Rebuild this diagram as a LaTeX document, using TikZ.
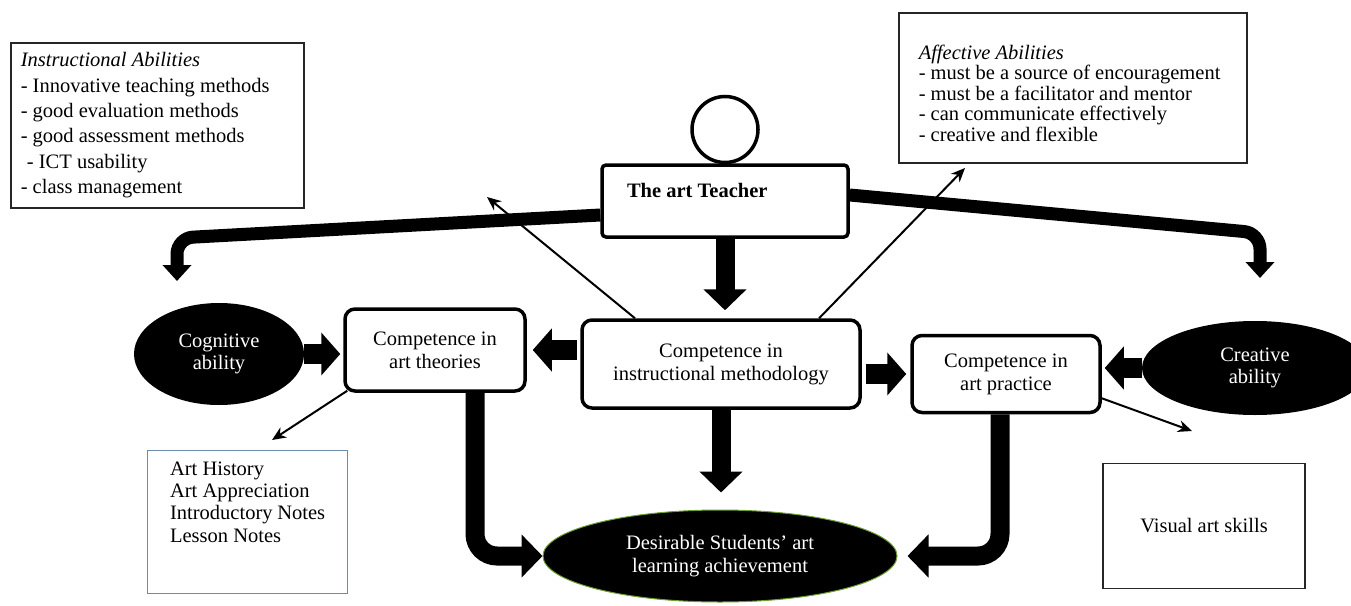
\documentclass[tikz,border=0pt]{standalone}
\usepackage{fontspec}
\setmainfont{Liberation Serif}
\usetikzlibrary{positioning,arrows.meta,shapes.geometric}

\definecolor{steelline}{RGB}{110,140,170}
\definecolor{glow}{RGB}{110,160,50}

\tikzset{
  listbox/.style={draw=black!85, line width=1.5pt, inner ysep=0pt, fill=white},
  compbox/.style={draw, line width=3.5pt, rounded corners=10pt, align=center, inner sep=0pt,
    font=\fontsize{20.5}{23}\selectfont},
  blob/.style={ellipse, fill=black, text=white, align=center, inner sep=0pt,
    font=\fontsize{20.5}{22.5}\selectfont},
  fatarrow/.style={line width=19pt, -{Triangle[width=42pt,length=21pt]}},
  stubarrow/.style={line width=20pt, -{Triangle[width=42pt,length=19pt]}},
  bendarrow/.style={line width=13pt, rounded corners=16pt, -{Triangle[width=28pt,length=16pt]}},
  thinarrow/.style={line width=2pt, -{Stealth[length=14pt,width=12pt]}},
}

\begin{document}
\begin{tikzpicture}[x=1pt,y=-1pt,font=\fontsize{20.5}{22}\selectfont]
  \useasboundingbox (0,0) rectangle (1351,605);

  % abilities of the teacher
  \node[listbox, anchor=north west, inner xsep=10pt] (instr) at (10,42)
    {\parbox[c][165pt][c]{273pt}{\fontsize{20.5}{25.4}\selectfont
      \textit{Instructional Abilities}\\
      - Innovative teaching methods\\
      - good evaluation methods\\
      - good assessment methods\\
      \hspace*{0.3em}- ICT usability\\
      - class management}};
  \node[listbox, anchor=north west, inner xsep=20pt] (affect) at (898,12)
    {\parbox[c][150pt][t]{308pt}{\fontsize{20.5}{20.5}\selectfont\vspace*{32pt}
      \textit{Affective Abilities}\\
      - must be a source of encouragement\\
      - must be a facilitator\ and mentor\\
      - can communicate effectively\\
      - creative and flexible}};

  % the teacher
  \node[draw, line width=3.5pt, rounded corners=4pt, inner xsep=25pt, inner ysep=0pt] (teach) at (725,201)
    {\parbox[c][72pt][t]{196pt}{\vspace*{18pt}\textbf{The art Teacher}}};
  \node[draw, circle, line width=3.5pt, minimum size=66pt, inner sep=0pt, above=-1pt of teach] (head) {};

  % competences
  \node[compbox, minimum width=180pt, minimum height=82pt] (theory) at (435,350) {Competence in\\art theories};
  \node[compbox, minimum width=278pt, minimum height=88pt] (method) at (721,364) {Competence in\\instructional methodology};
  \node[compbox, minimum width=188pt, minimum height=77pt] (practice) at (1006,374) {Competence in\\art practice};

  \node[blob, minimum width=170pt, minimum height=102pt] (cognitive) at (219,354) {Cognitive\\ability};
  \node[blob, minimum width=226pt, minimum height=94pt] (creative) at (1255,368) {Creative\\ability};
  \node[blob, draw=glow, line width=1pt, minimum width=354pt, minimum height=92pt] (achieve) at (720,556)
    {Desirable Students’ art\\learning achievement};

  % contents
  \node[listbox, draw=steelline, line width=1.2pt, anchor=north west, inner xsep=22.5pt] (history) at (147,450)
    {\parbox[c][143pt][t]{155pt}{\fontsize{20.5}{22.4}\selectfont\vspace*{11pt}
      Art History\\
      Art Appreciation\\
      Introductory Notes\\
      Lesson Notes}};
  \node[listbox, minimum width=202pt, minimum height=125pt, inner xsep=0pt] (skills) at (1204,526) {Visual art skills};

  \coordinate (leftbend) at (177,238);
  \coordinate (cogtop) at (177,281);
  \coordinate (rightbend) at (1260,233);
  \coordinate (creatop) at (1260,278);
  \coordinate (leftup) at (487,197);
  \coordinate (rightup) at (965,168);
  \coordinate (histtop) at (272,440);
  \coordinate (skilltop) at (1192,431);

  % arrows
  \draw[bendarrow] ([yshift=-14pt]teach.west) -- (leftbend) -- (cogtop);
  \draw[bendarrow] ([yshift=6pt]teach.east) -- (rightbend) -- (creatop);
  \draw[thinarrow] (method.152) -- (leftup);
  \draw[thinarrow] (method.25) -- (rightup);
  \draw[fatarrow, shorten >=8pt] (teach.south) -- (teach.south |- method.north);
  \draw[fatarrow, shorten >=17pt] (method.south) -- (method.south |- achieve.north);
  \draw[stubarrow, shorten >=3pt] (cognitive.east) -- (cognitive.east -| theory.west);
  \draw[stubarrow, shorten >=6pt, shorten <=3pt] (method.west |- theory.east) -- (theory.east);
  \draw[stubarrow, shorten >=4pt, shorten <=4pt] (method.east |- practice.west) -- (practice.west);
  \draw[stubarrow, shorten >=3pt] (creative.west) -- (creative.west -| practice.east);
  \draw[fatarrow, rounded corners=22pt] ([xshift=40pt]theory.south) |- (achieve.west);
  \draw[fatarrow, rounded corners=22pt, shorten >=10pt] ([xshift=-6pt]practice.south) |- (achieve.east);
  \draw[thinarrow] ([xshift=4pt,yshift=2pt]theory.south west) -- (histtop);
  \draw[thinarrow] ([yshift=16pt]practice.south east) -- (skilltop);
\end{tikzpicture}
\end{document}
